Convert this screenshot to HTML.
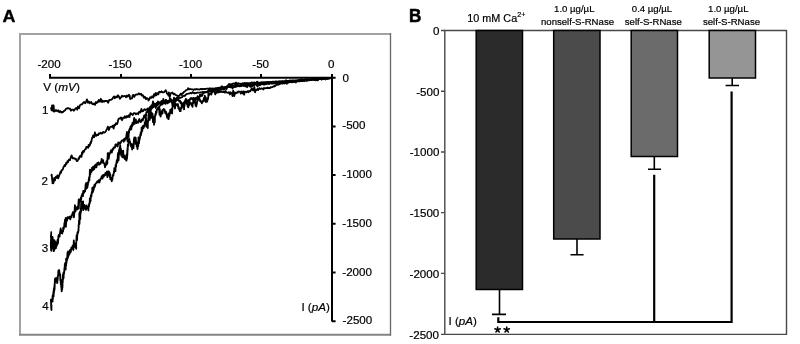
<!DOCTYPE html>
<html><head><meta charset="utf-8"><style>
html,body{margin:0;padding:0;background:#fff;width:800px;height:344px;overflow:hidden}
svg{display:block;will-change:transform}
text{font-family:"Liberation Sans",sans-serif;fill:#000;stroke:#000;stroke-width:0.2px}
</style></head><body>
<svg width="800" height="344" viewBox="0 0 800 344">
<rect width="800" height="344" fill="#fff"/>
<!-- Panel A -->
<text x="0" y="0" font-size="16.3" font-weight="bold" style="stroke-width:0.35px" transform="translate(2.4,21.6) scale(1.1,1)">A</text>
<path d="M20,335V34H390.5" fill="none" stroke="#a2a2a2" stroke-width="2"/>
<path d="M19,334.8H390.4" fill="none" stroke="#858585" stroke-width="2"/>
<path d="M390.5,33V335.8" fill="none" stroke="#6a6a6a" stroke-width="1.35"/>
<g font-size="11.6" text-anchor="middle">
<text x="49.1" y="68.1">-200</text>
<text x="120.2" y="68.1">-150</text>
<text x="190.5" y="68.1">-100</text>
<text x="260.7" y="68.1">-50</text>
<text x="331.2" y="68.1">0</text>
</g>
<text x="43.2" y="91.1" font-size="11.8">V (<tspan font-style="italic">mV</tspan>)</text>
<g font-size="11.6">
<text x="342.6" y="81.6">0</text>
<text x="342.3" y="129.3">-500</text>
<text x="342.3" y="178.1">-1000</text>
<text x="342.3" y="226.9">-1500</text>
<text x="342.3" y="275.6">-2000</text>
<text x="342.6" y="323.5">-2500</text>
<text x="301.4" y="310.8">I (<tspan font-style="italic">pA</tspan>)</text>
<text x="42" y="113.7">1</text>
<text x="41.5" y="184.8">2</text>
<text x="41.8" y="252">3</text>
<text x="42.3" y="309.8">4</text>
</g>
<g stroke="#000" fill="none" stroke-width="2">
<path d="M49,77.8H335.6M332,74V321.5M50,74V77.8M121,74V77.8M191,74V77.8M261,74V77.8"/>
<path d="M332,126.4H335.6M332,175.1H335.6M332,223.8H335.6M332,272.6H335.6M332,321.3H335.6"/>
</g>
<g stroke="#000" fill="none" stroke-width="1.8" stroke-linejoin="round">
<polyline points="51.2,107.4 51.1,108.4 51.5,109.5 51.4,109.4 51.6,110.3 52.0,109.8 52.0,105.5 52.3,108.9 52.3,106.8 52.5,107.4 52.5,109.9 52.8,110.2 52.9,110.9 53.1,105.5 53.7,108.3 53.6,105.5 53.9,108.4 53.8,111.5 55.0,111.4 55.9,109.9 57.0,111.2 58.2,110.3 59.2,112.2 60.1,111.0 61.2,112.5 62.1,111.8 62.6,112.3 63.5,111.5 64.4,110.6 65.1,110.3 66.1,108.6 67.2,108.5 68.0,108.0 69.2,108.7 69.9,108.5 70.9,110.7 71.8,109.7 73.0,109.6 73.8,110.7 74.8,109.4 75.5,108.4 76.3,108.0 76.7,108.1 77.2,109.7 77.9,106.4 79.1,108.2 79.9,105.2 81.0,104.5 82.0,104.4 83.0,103.0 84.2,101.9 85.1,103.3 85.8,102.5 86.9,99.4 88.0,102.8 88.9,101.4 89.9,103.2 91.2,101.9 92.0,103.7 93.0,104.3 94.0,103.5 95.1,104.9 95.7,102.1 96.6,103.1 97.4,101.7 97.8,102.3 98.8,99.9 99.9,101.7 100.9,98.8 102.1,102.1 102.8,100.7 103.9,101.7 105.1,100.7 106.0,101.2 107.0,100.8 108.2,102.7 109.1,100.1 110.0,99.8 110.8,99.9 112.0,99.3 113.2,97.5 114.2,96.5 114.8,98.2 116.2,96.5 117.0,97.4 118.0,95.3 119.1,96.8 120.0,98.8 121.1,97.3 122.0,95.8 123.0,96.5 123.9,96.2 125.1,96.0 126.0,97.2 127.0,95.5 127.8,96.6 129.0,94.7 129.7,95.8 130.2,99.0 130.6,98.9 131.2,98.4 132.1,98.3 132.7,95.3 133.4,94.9 134.3,97.0 135.3,94.8 136.6,94.4 137.7,94.5 138.9,93.3 140.0,94.5 141.1,93.7 141.9,95.6 142.9,95.2 143.9,97.8 144.8,96.6 145.9,99.2 146.7,98.0 147.7,98.5 148.5,100.5 149.3,99.5 150.2,97.2 151.4,97.9 152.1,96.3 153.3,97.6 154.0,94.1 154.8,95.9 155.7,92.9 156.5,95.2 157.3,93.1 158.4,94.3 159.2,91.7 160.4,92.3 161.5,91.3 162.5,92.4 163.7,92.4 164.5,91.7 165.6,90.3 166.3,91.2 167.0,93.7 167.7,93.8 168.5,95.6 168.9,92.3 169.7,97.3 170.7,93.3 171.3,93.0 172.4,92.5 173.5,94.4 174.4,93.6 175.2,94.7 176.2,95.2 177.2,95.6 178.2,96.1 179.4,95.6 180.7,93.7 181.6,95.1 182.4,93.2 183.3,93.0 184.0,91.8 184.8,91.5 185.8,90.4 186.5,90.0 187.6,89.7 188.1,88.2 189.4,89.3 190.6,89.0 191.7,89.4 192.9,89.3 193.5,90.0 194.7,89.1 195.8,89.6 196.8,89.0 197.7,89.4 198.7,89.3 199.6,89.5 200.9,88.8 201.8,89.4 202.8,88.9 203.8,89.2 204.9,89.0 206.1,88.8 207.1,88.5 208.3,89.0 209.3,88.3 210.4,88.3 211.5,88.8 212.6,88.4 213.8,88.6 214.6,88.8 215.9,88.1 216.7,88.5 217.8,87.9 219.0,87.8 219.9,87.8 221.1,87.3 222.2,86.5 222.8,87.5 223.8,87.1 224.8,87.1 226.1,86.8 227.1,86.2 227.6,85.7 228.4,84.7 229.1,84.0 230.1,84.4 231.1,84.1 232.0,84.3 233.0,83.6 234.0,83.4 234.9,84.1 235.9,82.6 237.1,84.1 238.1,83.1 239.0,83.7 240.0,83.6 241.2,83.8 242.1,83.5 243.2,83.3 243.8,83.5 244.9,82.9 246.1,83.5 247.2,82.9 248.2,83.5 249.0,83.0 250.1,83.4 251.1,82.6 252.0,82.5 252.9,83.3 253.9,82.4 255.2,82.9 256.0,82.9 257.2,81.7 258.0,83.0 258.9,82.6 259.8,83.2 261.1,82.2 262.1,82.5 263.1,82.1 263.9,82.4 265.1,82.0 266.2,82.4 267.2,81.9 268.1,82.2 269.0,82.0 270.0,82.2 270.8,81.8 272.1,81.9 272.8,81.6 273.8,81.7 274.9,81.9 275.9,81.4 277.2,81.7 277.9,81.5 279.0,81.5 279.9,81.2 280.9,81.3 282.1,81.0 282.9,81.2 283.9,81.1 285.2,81.2 285.9,80.2 286.8,80.8 288.0,81.0 289.0,80.8 289.9,80.4 290.9,80.7 291.8,80.3 293.1,80.5 294.0,80.3 295.0,80.5 295.9,80.4 297.0,80.3 298.0,80.0 299.0,80.3 299.9,79.9 301.0,79.2 302.2,79.8 302.9,79.5 304.2,79.9 304.8,79.5 306.0,79.8 307.0,79.0 308.1,79.5 309.1,79.1 310.0,79.1 311.1,79.0 312.2,79.4 313.0,79.0 314.1,79.1 314.8,78.9 316.2,78.9 317.1,78.8 318.0,79.1 318.9,78.8 319.9,78.6 321.1,78.5 322.1,78.8 323.0,77.8 323.9,78.2 325.2,78.5 326.1,78.0 327.1,78.1 328.0,78.0 329.1,78.4 329.9,77.9 331.0,78.0"/>
<polyline points="51.3,176.3 51.7,174.6 51.9,177.4 52.0,177.5 52.1,179.5 52.2,178.7 52.3,180.5 52.6,183.2 52.4,183.2 53.3,183.4 53.7,181.8 54.2,177.8 55.0,180.3 55.4,178.0 56.0,176.7 56.8,177.9 57.4,175.3 58.2,178.4 59.1,175.9 59.9,173.5 60.6,171.7 61.0,172.8 61.6,170.1 62.2,170.0 62.6,169.7 63.1,168.4 63.6,166.9 64.0,166.7 64.6,165.0 65.2,166.0 66.1,163.0 66.5,163.9 67.4,161.2 68.0,162.2 68.8,159.7 70.0,160.1 70.6,157.9 71.6,155.4 72.6,158.3 73.6,158.1 75.0,158.9 75.7,158.6 76.7,161.0 77.7,160.8 78.2,159.3 78.5,158.1 79.1,158.8 79.7,156.1 80.3,156.7 81.0,155.3 81.5,156.9 82.0,152.3 82.5,153.9 83.2,150.8 83.9,151.9 84.3,150.7 85.0,149.3 85.9,149.0 86.3,146.9 87.0,147.0 88.1,147.9 88.6,145.0 89.2,146.3 90.0,144.8 90.2,142.9 90.8,143.4 91.0,141.3 91.4,141.5 91.8,139.2 92.2,137.5 92.6,137.6 93.1,135.5 94.1,137.3 94.9,132.5 96.1,136.0 97.1,134.7 98.1,135.1 99.1,133.2 99.9,133.7 100.8,132.6 101.9,133.7 103.2,131.9 103.9,132.6 105.0,132.3 106.0,130.9 107.0,128.8 107.9,126.7 108.9,130.0 110.0,127.1 110.9,126.7 112.0,126.8 112.7,125.6 113.6,128.6 114.4,124.8 115.2,125.2 116.0,123.2 117.0,124.1 117.5,123.1 118.2,119.7 118.8,118.8 119.3,118.4 120.1,118.6 121.0,117.4 122.1,120.2 123.0,117.7 124.0,118.0 124.9,116.2 126.0,117.8 127.0,116.0 127.8,117.0 128.8,115.3 129.5,117.0 130.4,113.1 131.5,113.9 132.7,115.1 133.7,113.2 134.9,113.2 135.9,114.3 137.3,113.1 138.2,114.3 139.2,111.7 140.3,112.5 141.5,108.9 142.3,111.4 143.4,110.9 144.4,109.1 145.6,110.0 146.7,109.3 147.7,109.3 148.8,111.7 149.7,107.3 150.6,106.8 151.8,107.4 152.6,104.8 153.5,105.2 154.5,106.2 155.2,104.0 156.4,104.4 157.2,102.7 158.5,104.2 159.5,102.4 160.6,102.6 161.5,100.8 162.6,100.8 163.9,100.9 164.8,101.4 165.8,99.8 167.2,101.6 168.1,101.0 169.1,101.3 169.9,98.6 170.9,99.1 171.8,100.9 173.1,100.2 174.0,99.9 174.8,99.4 175.9,98.6 177.2,97.4 178.2,98.5 179.1,97.5 180.2,98.0 181.3,97.4 182.3,97.2 182.9,96.0 184.1,95.7 184.9,96.0 185.7,94.8 186.7,94.1 187.2,93.8 188.4,93.6 189.4,93.5 190.4,92.9 191.6,93.5 192.7,92.0 194.1,93.5 194.9,92.9 196.1,93.1 197.2,92.7 198.5,92.7 199.5,92.6 200.7,92.3 201.6,92.5 202.9,91.8 203.7,92.2 204.9,92.0 206.0,92.1 206.9,91.6 208.1,91.8 209.0,91.2 210.0,91.5 210.9,91.4 211.8,90.9 212.9,91.0 213.9,91.1 214.9,90.2 215.8,90.0 216.8,90.5 217.9,89.8 219.0,90.9 220.1,89.8 221.2,89.4 222.0,89.6 223.2,88.7 224.0,89.1 225.1,88.2 225.9,87.7 226.8,87.6 228.0,87.1 228.9,86.8 229.8,85.7 230.8,85.5 232.1,86.1 233.2,85.3 234.1,85.9 235.1,85.9 235.9,84.4 236.8,84.9 238.1,85.7 238.8,85.1 240.0,85.3 240.9,84.9 242.2,83.8 243.2,85.3 244.1,85.2 244.9,84.7 245.9,85.0 246.9,83.7 247.9,85.5 248.8,84.7 250.1,84.3 251.1,84.7 252.2,84.0 252.8,84.6 253.9,84.5 254.9,84.0 256.1,84.4 256.8,84.1 258.1,84.3 259.0,83.0 260.0,84.0 261.1,83.8 261.8,84.0 262.9,83.3 264.0,84.0 264.9,83.4 265.8,83.7 266.9,83.4 268.1,83.4 268.9,83.2 269.8,83.5 271.0,82.8 272.0,83.5 273.1,82.9 274.1,82.9 275.0,82.2 275.8,82.4 277.0,82.3 277.9,82.2 279.1,82.6 280.1,82.1 281.2,82.3 282.0,82.7 283.0,82.2 284.2,82.2 285.0,81.7 285.9,81.9 286.9,81.5 287.9,81.7 288.9,81.8 289.9,81.3 291.2,81.3 291.8,81.0 292.8,81.9 294.1,81.0 295.1,81.2 295.9,80.7 297.1,81.0 298.0,80.8 299.2,80.5 299.9,80.7 301.0,80.3 302.0,81.0 303.1,80.3 304.2,81.0 305.0,80.2 305.9,80.1 307.0,79.9 308.1,79.8 308.9,80.1 310.0,79.8 310.9,79.8 311.8,79.4 313.0,78.8 313.8,79.6 314.9,79.4 316.1,79.2 316.9,79.3 318.1,79.1 319.1,79.2 319.9,78.9 321.2,79.1 321.9,78.8 323.0,78.4 324.0,78.5 324.9,78.5 326.0,78.2 326.8,78.2 327.9,78.4 329.0,78.2 329.9,78.4 331.0,78.0"/>
<polyline points="51.1,232.6 51.2,232.1 51.1,235.7 51.0,235.3 51.1,235.3 50.8,237.2 51.1,236.7 51.1,239.9 50.8,244.3 51.1,239.0 50.9,240.5 51.1,240.5 51.1,243.7 50.8,242.1 50.9,247.6 51.0,243.1 51.1,245.2 51.1,250.3 50.9,246.3 51.1,249.7 51.2,250.2 51.2,250.4 51.2,248.3 51.1,250.6 51.3,250.7 51.4,247.9 51.2,247.8 51.3,248.7 51.4,248.8 51.7,244.5 51.6,248.8 51.6,244.1 51.9,239.1 52.1,245.0 52.1,237.0 52.1,240.0 52.1,242.2 52.5,237.6 52.3,240.2 52.6,237.2 52.5,237.0 52.8,241.2 52.7,239.3 52.7,242.8 52.8,238.5 53.0,243.4 52.9,241.4 52.9,245.4 53.0,243.7 53.3,244.3 53.1,247.5 53.3,248.9 53.5,244.7 53.5,249.5 53.6,248.2 53.6,251.2 53.5,244.7 53.6,249.0 53.7,246.4 54.1,244.3 54.2,250.6 54.3,244.4 54.2,245.6 54.3,242.5 54.3,243.6 54.4,240.1 54.9,243.3 55.1,241.4 55.3,242.5 55.4,248.7 55.8,245.8 55.6,245.7 56.0,248.1 56.1,244.9 56.3,246.9 56.6,242.9 57.0,245.2 57.1,242.6 57.1,244.1 57.2,241.0 57.7,241.6 57.7,239.3 57.9,243.7 58.3,238.7 58.4,236.9 58.4,235.8 58.5,236.6 59.0,234.6 59.6,236.7 59.9,233.4 60.7,228.5 61.3,233.1 61.9,233.0 62.3,233.5 62.5,230.3 63.1,231.5 63.2,227.6 63.6,229.2 64.2,226.6 64.4,223.1 64.7,222.5 64.8,225.5 65.0,219.6 65.3,224.9 65.7,218.0 65.9,226.8 66.3,220.0 66.4,220.8 66.9,219.0 67.1,220.7 67.5,217.1 67.9,218.4 68.5,218.2 69.3,216.6 70.3,219.4 70.6,216.9 71.2,216.1 71.5,217.3 71.7,215.0 72.3,214.8 72.5,214.1 72.8,212.2 73.5,214.0 73.9,217.3 74.6,209.9 74.9,205.2 75.5,211.7 75.7,208.0 76.6,209.3 76.6,207.3 77.2,209.5 77.6,206.3 78.0,207.8 78.2,206.8 78.7,199.3 78.8,208.5 79.1,202.1 79.4,200.5 80.0,199.8 80.2,201.3 80.4,199.3 80.9,197.4 81.2,199.4 81.2,199.4 81.5,195.9 81.9,195.8 82.4,193.4 83.0,196.1 83.2,190.9 83.8,190.8 84.1,192.8 84.7,190.3 85.1,191.4 85.7,183.8 86.2,188.9 86.3,182.8 87.0,188.1 87.3,185.1 87.5,187.4 87.6,182.7 87.9,185.1 87.9,185.1 88.2,181.9 88.5,182.5 88.7,179.7 88.9,179.0 89.0,177.8 89.4,180.4 89.4,176.4 89.7,177.3 89.8,175.1 89.7,175.2 89.9,169.7 90.3,174.5 90.3,171.0 90.6,173.2 91.0,169.6 91.5,172.0 92.1,167.7 93.0,170.2 93.2,166.7 94.1,169.3 94.7,165.5 95.1,167.6 95.9,164.3 96.4,167.4 97.4,162.8 97.8,164.6 98.5,162.4 99.3,164.6 99.7,163.5 100.5,163.9 101.3,160.8 101.7,158.8 102.3,162.7 103.1,160.1 103.5,163.0 104.3,163.3 105.0,167.4 105.4,164.7 106.0,165.2 106.2,162.3 106.6,164.7 106.4,161.2 106.9,162.5 107.2,160.5 107.3,163.7 107.5,157.5 107.7,159.2 107.7,153.2 107.9,157.6 108.2,156.2 108.4,153.1 108.7,158.9 109.4,153.7 109.8,153.9 110.2,152.6 111.0,150.2 111.4,150.9 111.8,152.6 112.6,148.9 113.2,149.5 113.5,147.8 114.1,147.3 114.9,147.8 115.4,144.7 116.0,144.3 116.5,145.8 117.1,144.8 117.6,146.5 118.3,142.5 119.1,143.9 119.9,142.4 120.4,143.5 121.3,141.3 122.1,140.3 122.9,140.2 123.8,141.7 124.1,138.8 124.8,140.5 125.3,138.1 126.0,138.5 126.9,132.0 127.5,141.3 127.9,136.1 128.0,133.4 128.2,136.4 128.6,137.3 128.8,131.2 129.1,132.6 129.2,129.8 129.2,130.8 129.5,130.3 129.7,128.6 129.9,130.0 130.1,128.6 130.6,126.1 131.3,129.3 131.7,124.9 132.2,126.3 132.4,123.0 133.2,124.8 134.1,118.0 134.6,123.9 135.8,119.4 136.5,123.1 137.4,121.4 138.1,122.8 139.3,119.0 139.8,121.3 140.8,122.2 141.8,119.3 142.2,119.3 142.8,120.5 143.2,118.1 143.6,118.6 144.1,115.4 144.5,115.4 145.0,117.4 145.2,117.4 145.6,114.4 146.2,116.0 146.3,112.2 146.7,112.3 146.9,112.1 147.5,110.5 147.8,108.3 148.0,111.6 148.8,113.0 149.3,108.5 150.0,107.9 150.9,109.7 151.3,105.3 151.9,108.6 153.0,101.3 153.5,107.3 154.4,104.9 154.9,103.5 155.8,108.1 156.5,103.3 157.4,105.5 157.9,101.4 158.8,103.2 159.8,102.5 160.7,105.5 161.9,102.6 162.6,104.3 163.3,98.9 164.3,103.4 165.1,102.4 165.7,103.8 166.6,100.3 167.7,103.4 168.4,101.4 169.1,102.2 169.8,100.4 170.9,101.8 171.8,101.5 172.6,105.8 173.1,103.8 174.0,101.9 175.0,108.5 175.5,103.5 176.3,104.3 176.6,104.8 177.5,106.0 178.0,104.0 178.4,108.5 178.9,107.2 179.3,109.9 179.4,108.8 179.8,111.1 180.2,110.1 180.6,111.1 180.7,108.4 181.1,107.6 181.6,108.5 181.6,103.7 182.2,105.0 182.4,106.0 182.6,105.2 183.1,106.9 183.7,105.2 184.2,109.2 184.0,109.3 184.4,104.2 184.6,105.8 184.8,102.9 185.3,101.0 185.5,102.3 185.5,101.9 185.6,102.8 186.2,102.3 186.4,100.9 186.7,100.7 187.0,104.4 187.1,103.9 187.4,104.3 187.7,106.7 187.9,106.6 188.3,107.4 188.8,105.1 189.1,105.2 189.3,101.4 189.7,103.0 189.8,102.1 190.3,102.7 190.8,103.8 191.3,103.4 191.6,105.4 191.8,105.1 192.2,106.0 192.6,106.8 192.5,102.8 193.1,103.3 193.2,102.9 193.2,100.9 193.5,103.0 193.8,99.0 194.2,98.2 194.3,100.8 194.6,100.7 194.9,101.0 195.5,105.5 195.8,102.5 196.0,104.5 196.2,106.5 196.9,103.6 197.2,100.8 197.5,101.1 197.9,99.7 198.2,99.6 198.7,98.3 198.9,97.1 199.4,99.5 199.9,99.3 200.1,101.2 200.6,101.6 201.0,101.0 201.8,103.3 202.2,101.9 202.5,102.4 202.6,101.7 203.3,100.2 203.5,100.1 203.9,98.0 204.1,101.0 204.7,100.1 204.8,95.7 205.2,97.4 205.8,97.5 205.9,102.1 206.5,99.6 206.8,101.6 206.8,101.1 207.3,101.6 207.3,101.3 207.4,99.6 207.7,98.2 207.9,99.1 208.1,98.5 208.3,96.4 208.3,93.4 208.9,95.3 209.7,94.0 210.5,93.2 211.3,94.6 211.7,92.8 212.6,91.8 213.5,91.6 214.4,91.3 215.2,94.4 216.0,91.8 216.9,92.9 218.1,89.8 218.9,92.5 219.7,91.5 220.7,92.0 221.6,91.4 222.3,92.1 223.2,92.1 223.9,91.5 225.0,92.7 225.6,91.0 226.4,92.4 227.4,92.6 228.1,92.9 229.0,92.1 229.9,94.5 230.7,92.3 231.8,93.3 232.5,96.1 233.2,90.6 234.3,96.2 234.8,92.3 235.7,93.5 236.8,92.4 237.6,92.8 238.2,91.5 239.1,91.6 240.0,91.6 240.8,93.6 241.7,91.4 242.6,93.4 243.4,91.4 244.1,94.7 244.8,91.7 245.9,91.8 246.7,92.3 247.6,91.1 248.5,92.2 249.1,91.0 250.2,91.4 250.9,90.0 251.9,88.2 252.7,90.3 253.2,90.5 254.4,87.0 255.1,92.3 255.8,89.8 256.7,90.1 257.4,88.9 258.2,90.1 259.3,88.1 260.0,88.8 260.9,88.8 261.6,88.4 262.4,88.8 263.4,89.5 264.0,87.9 264.8,88.4 266.0,88.0 266.7,88.2 267.5,87.5 268.3,88.2 269.3,87.9 269.9,88.0 270.7,87.2 271.7,87.3 272.3,87.1 273.2,86.4 274.0,86.6 274.8,85.6 275.2,86.0 276.0,85.1 276.8,84.2 277.6,84.8 278.6,84.7 279.3,83.8 279.8,84.1 280.9,83.3 281.6,83.5 282.6,83.6 283.2,82.9 284.1,83.5 285.1,82.9 285.9,83.2 286.8,83.7 287.6,82.1 288.2,82.8 289.0,82.4 290.2,81.7 291.0,82.2 291.8,82.3 292.3,81.7 293.1,81.4 294.2,81.6 294.8,81.3 295.8,82.5 296.7,80.8 297.5,81.4 298.3,80.3 299.3,81.1 300.0,80.9 300.8,81.2 301.6,80.7 302.7,80.6 303.2,80.8 304.1,80.2 304.8,80.9 305.7,79.2 306.7,80.1 307.6,80.6 308.5,80.0 309.1,80.4 310.1,79.6 310.9,80.2 311.7,79.6 312.4,79.3 313.2,79.6 314.0,80.1 315.1,79.6 315.6,80.4 316.5,78.3 317.4,80.3 318.0,80.4 318.8,78.9 319.7,79.2 320.4,78.1 321.4,78.7 322.2,78.9 323.2,78.9 324.0,78.6 324.6,78.3 325.4,79.5 326.2,78.4 327.0,78.7 327.8,78.0 328.7,78.4 329.2,78.3 330.2,77.9 331.0,78.0"/>
<polyline points="51.7,308.9 51.4,310.0 51.5,305.2 51.3,309.0 51.3,305.4 51.1,302.9 51.2,307.9 51.0,299.4 50.9,300.6 51.1,303.7 51.0,301.7 51.6,299.6 52.4,301.3 52.6,301.5 52.5,296.0 52.8,299.4 52.9,297.0 52.9,295.5 53.3,293.8 53.1,295.2 53.5,291.5 53.6,296.4 53.8,292.6 53.7,290.1 54.0,288.2 54.0,289.7 54.2,287.6 54.2,291.6 54.5,285.0 54.6,286.7 54.7,283.3 54.6,289.1 54.9,279.1 54.8,282.6 54.8,281.6 55.1,282.7 55.2,281.3 55.3,278.1 55.4,281.7 56.5,279.3 56.7,277.8 57.0,282.4 57.1,283.0 57.4,282.6 57.3,277.6 57.7,278.6 57.8,278.1 57.6,280.5 57.8,276.4 57.7,278.6 58.1,274.8 58.2,275.3 58.2,274.6 58.3,272.6 58.2,272.8 58.5,270.4 58.7,271.9 59.2,270.2 59.4,273.2 59.3,271.5 59.8,274.6 60.1,276.2 60.1,274.2 60.3,280.5 60.2,275.3 60.5,280.2 60.4,280.0 60.7,280.0 60.8,284.3 60.9,279.6 60.8,282.9 61.0,284.0 61.0,284.7 61.3,282.8 61.1,286.9 61.3,284.8 61.3,282.5 61.5,289.6 61.6,287.8 61.6,291.3 61.8,290.0 61.6,291.0 61.8,290.8 61.7,291.2 61.9,288.2 61.9,289.4 62.0,283.9 62.2,289.6 62.1,285.4 62.2,288.2 62.5,287.3 62.3,283.6 62.6,285.6 62.5,282.6 62.7,279.2 62.8,282.3 62.8,275.0 62.9,279.7 63.3,278.9 63.4,272.9 63.2,275.5 63.7,277.7 63.6,274.7 63.7,272.7 64.0,274.5 63.8,272.2 64.2,272.9 64.4,268.3 64.7,269.1 64.6,269.8 64.8,264.4 65.3,262.8 65.4,265.1 65.7,269.5 65.7,262.6 66.2,265.4 66.1,258.6 66.4,261.3 66.4,263.5 66.9,258.7 66.8,258.2 67.1,260.3 67.5,252.6 67.4,258.9 67.8,257.9 68.0,251.4 68.2,257.0 68.5,254.7 68.7,251.6 69.3,254.7 69.5,252.4 70.1,249.8 70.5,252.6 71.0,250.7 71.3,247.7 71.7,248.6 72.1,248.9 72.6,245.6 73.4,250.0 73.8,240.4 74.3,246.9 75.0,243.7 74.9,245.3 75.3,245.6 75.6,247.6 75.7,245.7 75.9,244.9 76.0,245.9 75.9,245.1 76.2,248.8 76.2,243.9 76.3,242.3 76.6,235.2 76.5,237.9 76.8,240.5 76.7,239.2 76.7,238.4 77.1,235.3 77.1,239.9 77.4,232.6 77.5,234.4 77.6,232.1 78.0,231.6 78.0,233.0 78.5,230.1 78.6,230.8 78.5,228.3 78.4,229.4 78.8,226.7 78.6,225.3 78.6,227.1 78.8,223.8 79.0,222.0 79.0,220.5 78.9,222.0 78.9,221.5 79.5,224.0 79.3,213.5 79.5,223.7 79.7,217.8 79.8,212.0 79.9,217.8 80.1,214.1 80.3,219.0 80.3,213.3 80.6,214.0 80.5,212.9 80.8,209.0 80.7,208.8 81.0,212.0 81.1,203.8 81.0,208.2 81.2,201.1 81.3,207.4 81.4,204.8 81.4,209.1 81.5,203.8 81.4,201.2 82.1,204.1 82.6,204.2 83.1,201.3 83.2,210.2 83.9,207.6 84.4,205.0 84.5,208.6 85.0,206.7 86.0,209.9 86.3,205.5 87.3,208.3 88.1,206.5 88.4,210.5 88.6,204.9 89.0,206.6 89.3,203.2 89.4,203.9 89.8,201.0 89.8,203.6 89.8,198.4 90.3,199.0 90.6,201.2 90.6,200.7 90.8,195.4 91.1,195.9 91.0,197.1 91.2,194.8 91.4,196.7 91.6,193.7 91.8,192.0 92.2,193.1 92.3,187.7 92.7,192.3 93.0,191.8 93.4,187.2 93.7,189.8 94.0,186.7 94.0,187.6 94.4,185.0 94.7,187.0 95.5,183.7 95.9,183.6 96.8,182.2 97.4,181.2 98.0,182.4 98.7,180.2 99.4,182.5 99.8,181.4 100.5,178.6 101.0,178.9 101.8,176.1 102.5,178.7 103.1,175.0 103.7,176.7 104.2,174.6 105.2,175.2 105.4,173.0 106.2,174.6 107.0,171.5 107.4,177.1 108.1,171.3 108.9,172.2 108.9,171.3 109.1,174.0 109.5,176.2 109.7,172.7 109.8,176.9 110.3,174.4 110.3,179.3 110.6,177.4 110.9,177.7 111.3,179.7 111.4,179.2 111.8,181.3 111.9,179.7 112.0,177.6 112.4,179.8 112.7,175.8 112.9,175.0 113.0,175.2 113.4,175.6 113.7,172.8 113.9,173.0 113.9,171.3 114.2,172.6 114.3,168.1 114.6,169.0 115.0,170.4 115.2,168.6 115.5,171.2 115.6,165.0 115.8,165.7 116.1,166.6 116.2,164.3 116.6,161.7 116.6,163.3 116.8,160.3 117.3,159.3 117.4,162.5 117.7,159.1 117.8,154.5 118.0,160.0 118.0,153.0 118.3,156.7 118.6,153.3 118.6,160.3 118.9,153.3 118.8,153.2 119.0,150.7 119.2,149.3 119.3,151.7 119.7,154.0 119.6,147.9 119.7,150.5 120.2,145.1 120.3,146.8 120.5,149.6 120.9,148.8 121.3,155.7 121.7,150.8 121.9,153.7 122.3,157.2 122.7,153.7 122.9,156.9 123.2,150.6 123.5,157.6 124.2,155.3 125.0,159.2 125.4,157.1 126.3,160.7 126.2,156.0 126.6,156.0 126.5,160.5 126.5,154.6 126.8,155.8 126.9,154.0 127.0,158.6 127.3,150.0 127.4,153.4 127.3,155.8 127.7,147.4 127.5,148.4 127.9,149.8 127.8,149.1 127.8,144.6 128.0,146.2 128.3,145.9 128.3,145.3 128.5,140.9 128.4,143.1 128.6,139.6 128.9,141.6 129.3,138.9 129.7,141.5 129.8,141.3 130.2,142.3 130.9,146.2 131.3,144.0 131.6,147.7 132.0,144.3 132.1,149.6 132.6,144.3 132.8,147.7 133.3,146.5 133.5,148.2 133.9,139.1 134.0,142.7 134.3,137.4 134.7,142.8 135.0,141.8 135.5,137.7 135.5,143.9 135.7,137.6 136.1,142.6 136.0,143.1 136.5,143.8 136.4,142.5 136.6,142.0 136.7,146.5 137.2,144.8 137.3,146.5 137.2,146.6 137.5,149.1 137.7,146.1 137.7,147.1 138.1,142.9 138.3,146.0 138.5,137.3 138.9,142.5 139.1,143.1 139.1,140.4 139.4,140.5 139.6,137.2 139.8,139.1 139.9,137.1 140.2,137.0 140.2,134.7 140.5,135.3 140.8,132.1 140.9,135.4 141.5,132.4 141.6,127.5 141.7,130.5 142.3,130.9 142.4,129.3 142.5,128.8 143.1,125.7 143.1,127.8 143.5,128.0 143.8,125.8 144.0,127.1 144.7,124.5 144.7,122.6 145.0,123.8 145.5,120.5 145.6,120.1 146.1,117.8 146.4,126.8 146.7,122.7 147.0,122.2 147.4,123.7 147.5,123.2 147.8,128.0 147.9,120.4 148.2,120.9 148.2,121.8 148.5,115.1 148.6,114.2 148.7,118.5 149.1,118.9 149.0,116.8 149.5,117.4 149.8,120.0 150.0,114.1 150.5,109.5 150.9,112.3 151.5,117.9 151.6,112.7 152.2,115.6 152.2,113.5 152.6,114.1 153.0,122.2 153.3,117.1 153.6,119.4 153.8,116.8 154.0,124.8 154.3,119.1 154.6,118.0 154.8,122.4 155.0,116.5 155.2,115.2 155.5,113.7 155.8,115.0 155.9,111.4 156.3,112.0 156.2,112.5 156.5,112.8 156.9,109.3 157.7,109.4 158.1,107.4 158.6,109.2 159.3,106.2 159.2,109.5 159.5,114.6 159.5,108.6 159.8,112.4 159.8,108.9 160.0,112.2 160.3,114.1 160.2,113.4 160.6,116.7 160.8,115.4 161.3,112.0 161.7,114.2 162.1,110.5 162.5,113.3 162.8,110.6 163.2,109.7 163.7,108.9 164.6,109.6 165.2,113.2 165.7,113.5 166.0,111.6 166.4,113.9 166.9,116.4 167.2,117.9 167.4,116.6 167.6,115.4 168.1,116.7 168.4,113.4 168.5,119.2 168.8,118.2 169.0,114.9 169.5,115.7 169.6,114.8 169.9,112.0 170.0,113.6 170.2,109.9 170.7,111.5 171.1,112.9 171.2,111.8 171.5,108.8 172.1,113.5 172.4,108.0 172.7,105.7 172.9,105.7 173.4,106.4 173.4,102.7 174.0,97.7 174.6,103.8 175.3,100.5 175.8,99.6 176.4,100.7 177.0,100.2 178.1,98.7 179.2,101.3 180.1,100.7 180.5,103.1 181.1,102.9 181.4,102.3 182.2,104.3 182.6,103.6 182.9,105.4 183.2,104.2 183.7,102.7 183.9,103.3 184.5,101.6 185.0,101.8 185.4,100.0 185.8,99.5 185.8,99.0 186.5,99.3 186.9,101.0 187.2,100.6 187.6,104.0 187.8,102.8 188.3,102.5 188.8,99.9 189.4,101.0 189.9,98.9 190.3,99.5 190.5,98.4 191.0,98.2 191.7,98.0 192.5,99.6 193.4,97.9 194.2,99.5 194.9,100.7 195.7,97.8 196.2,99.5 197.0,98.5 197.6,96.2 198.2,97.8 198.8,96.9 199.5,97.2 199.9,94.6 200.8,96.2 201.3,94.7 202.2,95.9 202.8,94.0 203.7,92.9 204.4,92.6 205.2,92.2 205.9,92.5 206.7,91.8 207.3,92.0 208.1,90.8 208.9,91.8 209.5,89.1 210.5,91.1 211.0,89.8 211.7,90.8 212.5,89.8 213.4,89.8 214.1,88.8 214.8,89.5 215.7,88.6 216.8,89.5 217.4,88.0 218.3,88.9 219.2,87.6 219.8,88.9 220.9,88.0 221.6,86.4 222.7,88.6 223.5,88.1 224.1,89.6 225.1,86.9 225.7,88.1 226.5,89.3 227.6,85.8 228.4,86.6 229.2,87.1 229.9,86.6 230.6,87.3 231.6,85.6 232.5,88.6 233.1,87.1 234.2,87.2 235.0,86.3 235.9,87.0 236.7,84.6 237.6,86.3 238.2,85.6 239.2,86.3 240.0,86.3 240.7,85.8 241.8,86.1 242.3,85.1 243.2,85.2 244.1,86.2 244.9,84.9 245.6,86.2 246.2,85.3 247.1,87.2 248.0,84.8 248.6,85.5 249.5,84.9 250.3,86.9 251.2,84.5 252.0,86.5 252.9,84.6 253.5,85.6 254.5,84.9 255.1,83.5 255.9,84.1 256.9,85.4 257.6,86.5 258.4,84.5 259.0,82.8 259.8,85.3 260.7,84.3 261.7,84.4 262.2,83.9 263.2,84.2 264.1,84.8 264.7,83.9 265.6,84.3 266.2,84.1 267.2,83.7 267.8,83.4 268.8,84.0 269.5,83.3 270.3,83.4 271.2,83.3 271.9,83.5 272.9,82.7 273.5,83.6 274.5,83.2 275.1,83.4 275.9,83.4 276.8,82.8 277.7,83.0 278.3,82.9 279.2,82.9 279.8,82.8 280.6,83.3 281.4,82.5 282.4,81.7 283.2,82.1 284.0,82.0 284.9,82.6 285.5,82.4 286.2,81.8 287.3,82.1 288.1,82.1 288.8,82.1 289.7,81.5 290.4,81.8 291.1,81.5 291.9,81.7 292.7,81.5 293.6,82.1 294.4,81.2 295.4,81.4 296.1,80.9 296.9,81.3 297.6,80.8 298.5,80.8 299.3,81.5 300.0,80.7 300.8,81.0 301.8,80.3 302.5,80.9 303.2,80.4 304.2,80.7 304.8,79.8 305.7,80.3 306.6,80.9 307.6,80.0 308.3,80.1 309.0,79.8 310.0,80.2 310.9,79.8 311.7,79.9 312.3,79.4 313.4,79.8 314.2,79.4 315.1,79.7 315.7,78.5 316.5,79.6 317.3,79.2 318.3,79.0 318.8,79.2 319.7,78.9 320.6,78.7 321.6,79.7 322.3,78.6 323.1,78.7 323.7,77.8 324.5,78.7 325.3,78.3 326.3,78.7 327.1,78.0 327.7,79.0 328.6,77.8 329.5,78.2 330.4,78.0 331.0,78.0"/>
</g>
<!-- Panel B -->
<text x="0" y="0" font-size="17.6" font-weight="bold" style="stroke-width:0.55px" transform="translate(409,21.7) scale(0.97,1)">B</text>
<g fill="none" stroke="#484848" stroke-width="1.4">
<path d="M444.8,30.5H786.5V334.4H444.8Z"/>
<path d="M441,30.5H444.8M441,91.2H444.8M441,152H444.8M441,212.6H444.8M441,273.4H444.8M441,334.4H444.8"/>
</g>
<g font-size="11.6" text-anchor="end">
<text x="439.4" y="34.7">0</text>
<text x="439.4" y="95.5">-500</text>
<text x="439.4" y="156.3">-1000</text>
<text x="439.3" y="216.9">-1500</text>
<text x="439.2" y="277.7">-2000</text>
<text x="439" y="338.6">-2500</text>
</g>
<text x="448.5" y="324.9" font-size="11.6">I (<tspan font-style="italic">pA</tspan>)</text>
<g stroke="#000" stroke-width="1.5">
<rect x="476.2" y="30.5" width="46.3" height="259" fill="#2b2b2b"/>
<rect x="553.7" y="30.5" width="46.3" height="208.5" fill="#4b4b4b"/>
<rect x="631.2" y="30.5" width="46.3" height="126" fill="#6b6b6b"/>
<rect x="709.2" y="30.5" width="46.3" height="47.5" fill="#959595"/>
</g>
<g stroke="#000" stroke-width="1.6" fill="none">
<path d="M499.5,289.5V314.4M492,314.4H506"/>
<path d="M577,239V254.8M570.5,254.8H583.6"/>
<path d="M654.3,156V169.2M648,169.2H661"/>
<path d="M732.2,78V85.5M725.6,85.5H739"/>
</g>
<path d="M498.3,317.2V322H731.6V91.6M654.2,174.7V322" stroke="#000" stroke-width="2.2" fill="none"/>
<path d="M497.60,329.70L497.60,326.90M497.60,329.70L500.26,328.83M497.60,329.70L499.25,331.97M497.60,329.70L495.95,331.97M497.60,329.70L494.94,328.83M506.70,329.70L506.70,326.90M506.70,329.70L509.36,328.83M506.70,329.70L508.35,331.97M506.70,329.70L505.05,331.97M506.70,329.70L504.04,328.83" stroke="#000" stroke-width="1.5" stroke-linecap="round" fill="none"/>
<text x="467.2" y="22.2" font-size="10.85">10 mM Ca<tspan font-size="7.2" dy="-5.4">2+</tspan></text>
<g font-size="9.6" text-anchor="middle">
<text x="574.3" y="11.5">1.0 µg/µL</text>
<text x="577.5" y="25.2">nonself-S-RNase</text>
<text x="652" y="11.6">0.4 µg/µL</text>
<text x="653.3" y="24.9">self-S-RNase</text>
<text x="728.3" y="11.6">1.0 µg/µL</text>
<text x="731.5" y="24.9">self-S-RNase</text>
</g>
</svg>
</body></html>
